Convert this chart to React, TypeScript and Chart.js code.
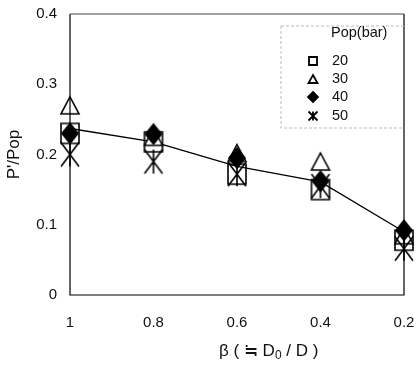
import React, { useEffect, useRef } from "react";
import { Chart, registerables } from "chart.js";

Chart.register(...registerables);

const categories = ["1", "0.8", "0.6", "0.4", "0.2"];
const pop20 = [0.23, 0.218, 0.172, 0.15, 0.078];
const pop30 = [0.27, 0.225, 0.202, 0.19, 0.085];
const pop40 = [0.23, 0.229, 0.195, 0.162, 0.092];
const pop50 = [0.2, 0.19, 0.172, 0.155, 0.066];
const fitLine = [0.237, 0.218, 0.183, 0.161, 0.09];
const legendTitle = "Pop(bar)";
const legendLabels = ["20", "30", "40", "50"];
const yTitle = "P'/Pop";

const FONT = "'Liberation Sans', Arial, sans-serif";

function drawShape(ctx: CanvasRenderingContext2D, kind: string, cx: number, cy: number, w: number, h: number, lw: number) {
  ctx.save();
  ctx.strokeStyle = "#000";
  ctx.fillStyle = "#000";
  ctx.lineWidth = lw;
  ctx.beginPath();
  if (kind === "square") {
    ctx.rect(cx - w / 2, cy - h / 2, w, h);
    ctx.stroke();
  } else if (kind === "triangle") {
    ctx.moveTo(cx, cy - h / 2);
    ctx.lineTo(cx + w / 2, cy + h / 2);
    ctx.lineTo(cx - w / 2, cy + h / 2);
    ctx.closePath();
    ctx.fillStyle = "#fff";
    ctx.fill();
    ctx.stroke();
  } else if (kind === "diamond") {
    ctx.moveTo(cx, cy - h / 2);
    ctx.lineTo(cx + w / 2, cy);
    ctx.lineTo(cx, cy + h / 2);
    ctx.lineTo(cx - w / 2, cy);
    ctx.closePath();
    ctx.fill();
    ctx.stroke();
  } else if (kind === "star") {
    ctx.moveTo(cx - w / 2, cy - h / 2);
    ctx.lineTo(cx + w / 2, cy + h / 2);
    ctx.moveTo(cx + w / 2, cy - h / 2);
    ctx.lineTo(cx - w / 2, cy + h / 2);
    ctx.moveTo(cx, cy - h / 2);
    ctx.lineTo(cx, cy + h / 2);
    ctx.stroke();
  }
  ctx.restore();
}

function makeMarker(kind: string, w: number, h: number): HTMLCanvasElement {
  const c = document.createElement("canvas");
  c.width = w + 4;
  c.height = h + 4;
  const ctx = c.getContext("2d")!;
  drawShape(ctx, kind, c.width / 2, c.height / 2, w, h, 1.6);
  return c;
}

function zeroPad(s: any) {
  s.paddingTop = 0;
  s.paddingBottom = 0;
  s.paddingLeft = 0;
  s.paddingRight = 0;
}

export default function App() {
  const ref = useRef<HTMLCanvasElement | null>(null);

  useEffect(() => {
    document.body.style.margin = "0";
    const canvas = ref.current!;
    const mSquare = makeMarker("square", 18, 20);
    const mTri = makeMarker("triangle", 18, 17);
    const mDia = makeMarker("diamond", 16, 20);
    const mStar = makeMarker("star", 18, 24);

    const overlay = {
      id: "overlay",
      afterDraw(chart: any) {
        const ctx = chart.ctx as CanvasRenderingContext2D;
        const a = chart.chartArea;
        ctx.save();
        // frame
        ctx.lineWidth = 1.2;
        ctx.strokeStyle = "#000";
        ctx.beginPath();
        ctx.moveTo(a.left, a.top);
        ctx.lineTo(a.left, a.bottom);
        ctx.lineTo(a.right, a.bottom);
        ctx.lineTo(a.right, a.top);
        ctx.stroke();
        ctx.strokeStyle = "#444";
        ctx.lineWidth = 1;
        ctx.beginPath();
        ctx.moveTo(a.left, a.top);
        ctx.lineTo(a.right, a.top);
        ctx.stroke();

        // legend box
        ctx.strokeStyle = "#bbb";
        ctx.setLineDash([3, 2]);
        ctx.beginPath();
        ctx.moveTo(281, 26);
        ctx.lineTo(a.right, 26);
        ctx.moveTo(281, 26);
        ctx.lineTo(281, 128);
        ctx.lineTo(a.right, 128);
        ctx.stroke();
        ctx.setLineDash([]);

        ctx.fillStyle = "#111";
        ctx.font = `14.5px ${FONT}`;
        ctx.textBaseline = "middle";
        ctx.textAlign = "left";
        ctx.fillText(legendTitle, 331, 33);
        const kinds = ["square", "triangle", "diamond", "star"];
        const ys = [61, 79, 97, 116];
        const sizes = [[8, 8], [9, 8], [10, 10], [9, 9]];
        kinds.forEach((k, i) => {
          drawShape(ctx, k, 313, ys[i], sizes[i][0], sizes[i][1], 1.8);
          ctx.fillStyle = "#111";
          ctx.fillText(legendLabels[i], 332, ys[i]);
        });

        // x title: β ( ≒ D0 / D )
        ctx.textBaseline = "alphabetic";
        const by = 356;
        let x = 219;
        const put = (s: string, size: number, dy = 0) => {
          ctx.font = `${size}px ${FONT}`;
          ctx.fillText(s, x, by + dy);
          x += ctx.measureText(s).width;
        };
        put("β ( ≒ D", 17);
        put("0", 12, 3);
        put(" / D )", 17);
        ctx.restore();
      },
    };

    const chart = new Chart(canvas, {
      type: "line",
      data: {
        labels: categories,
        datasets: [
          { label: "40", data: pop40, showLine: false, pointStyle: mDia as any, pointRadius: 10, borderColor: "#000", backgroundColor: "#000" },
          { label: "50", data: pop50, showLine: false, pointStyle: mStar as any, pointRadius: 10, borderColor: "#000" },
          { label: "20", data: pop20, showLine: false, pointStyle: mSquare as any, pointRadius: 10, borderColor: "#000" },
          { label: "30", data: pop30, showLine: false, pointStyle: mTri as any, pointRadius: 10, borderColor: "#000" },
          { label: "fit", data: fitLine, showLine: true, pointRadius: 0, borderColor: "#000", borderWidth: 1.3, tension: 0 },
        ],
      },
      options: {
        responsive: false,
        animation: false,
        layout: { autoPadding: false, padding: { top: 14, right: 14, left: 0, bottom: 0 } },
        plugins: { legend: { display: false }, tooltip: { enabled: false } },
        scales: {
          x: {
            type: "category",
            offset: false,
            grid: { display: false, drawTicks: false },
            border: { display: false },
            ticks: { color: "#111", font: { family: FONT, size: 15 }, padding: 19, maxRotation: 0, autoSkip: false },
            afterFit: (s: any) => { s.height = 70; zeroPad(s); },
          },
          y: {
            min: 0,
            max: 0.4,
            grid: { display: false, drawTicks: false },
            border: { display: false },
            ticks: {
              stepSize: 0.1,
              color: "#111",
              font: { family: FONT, size: 15 },
              padding: 13,
              callback: (v: any) => String(Math.round(Number(v) * 10) / 10),
            },
            title: { display: true, text: yTitle, color: "#111", font: { family: FONT, size: 17 }, padding: { top: 4, bottom: 0 } },
            afterFit: (s: any) => { s.width = 70; zeroPad(s); },
          },
        },
      },
      plugins: [overlay],
    });
    return () => chart.destroy();
  }, []);

  return (
    <div style={{ width: 418, height: 365 }}>
      <canvas ref={ref} width={418} height={365} style={{ display: "block" }} />
    </div>
  );
}
